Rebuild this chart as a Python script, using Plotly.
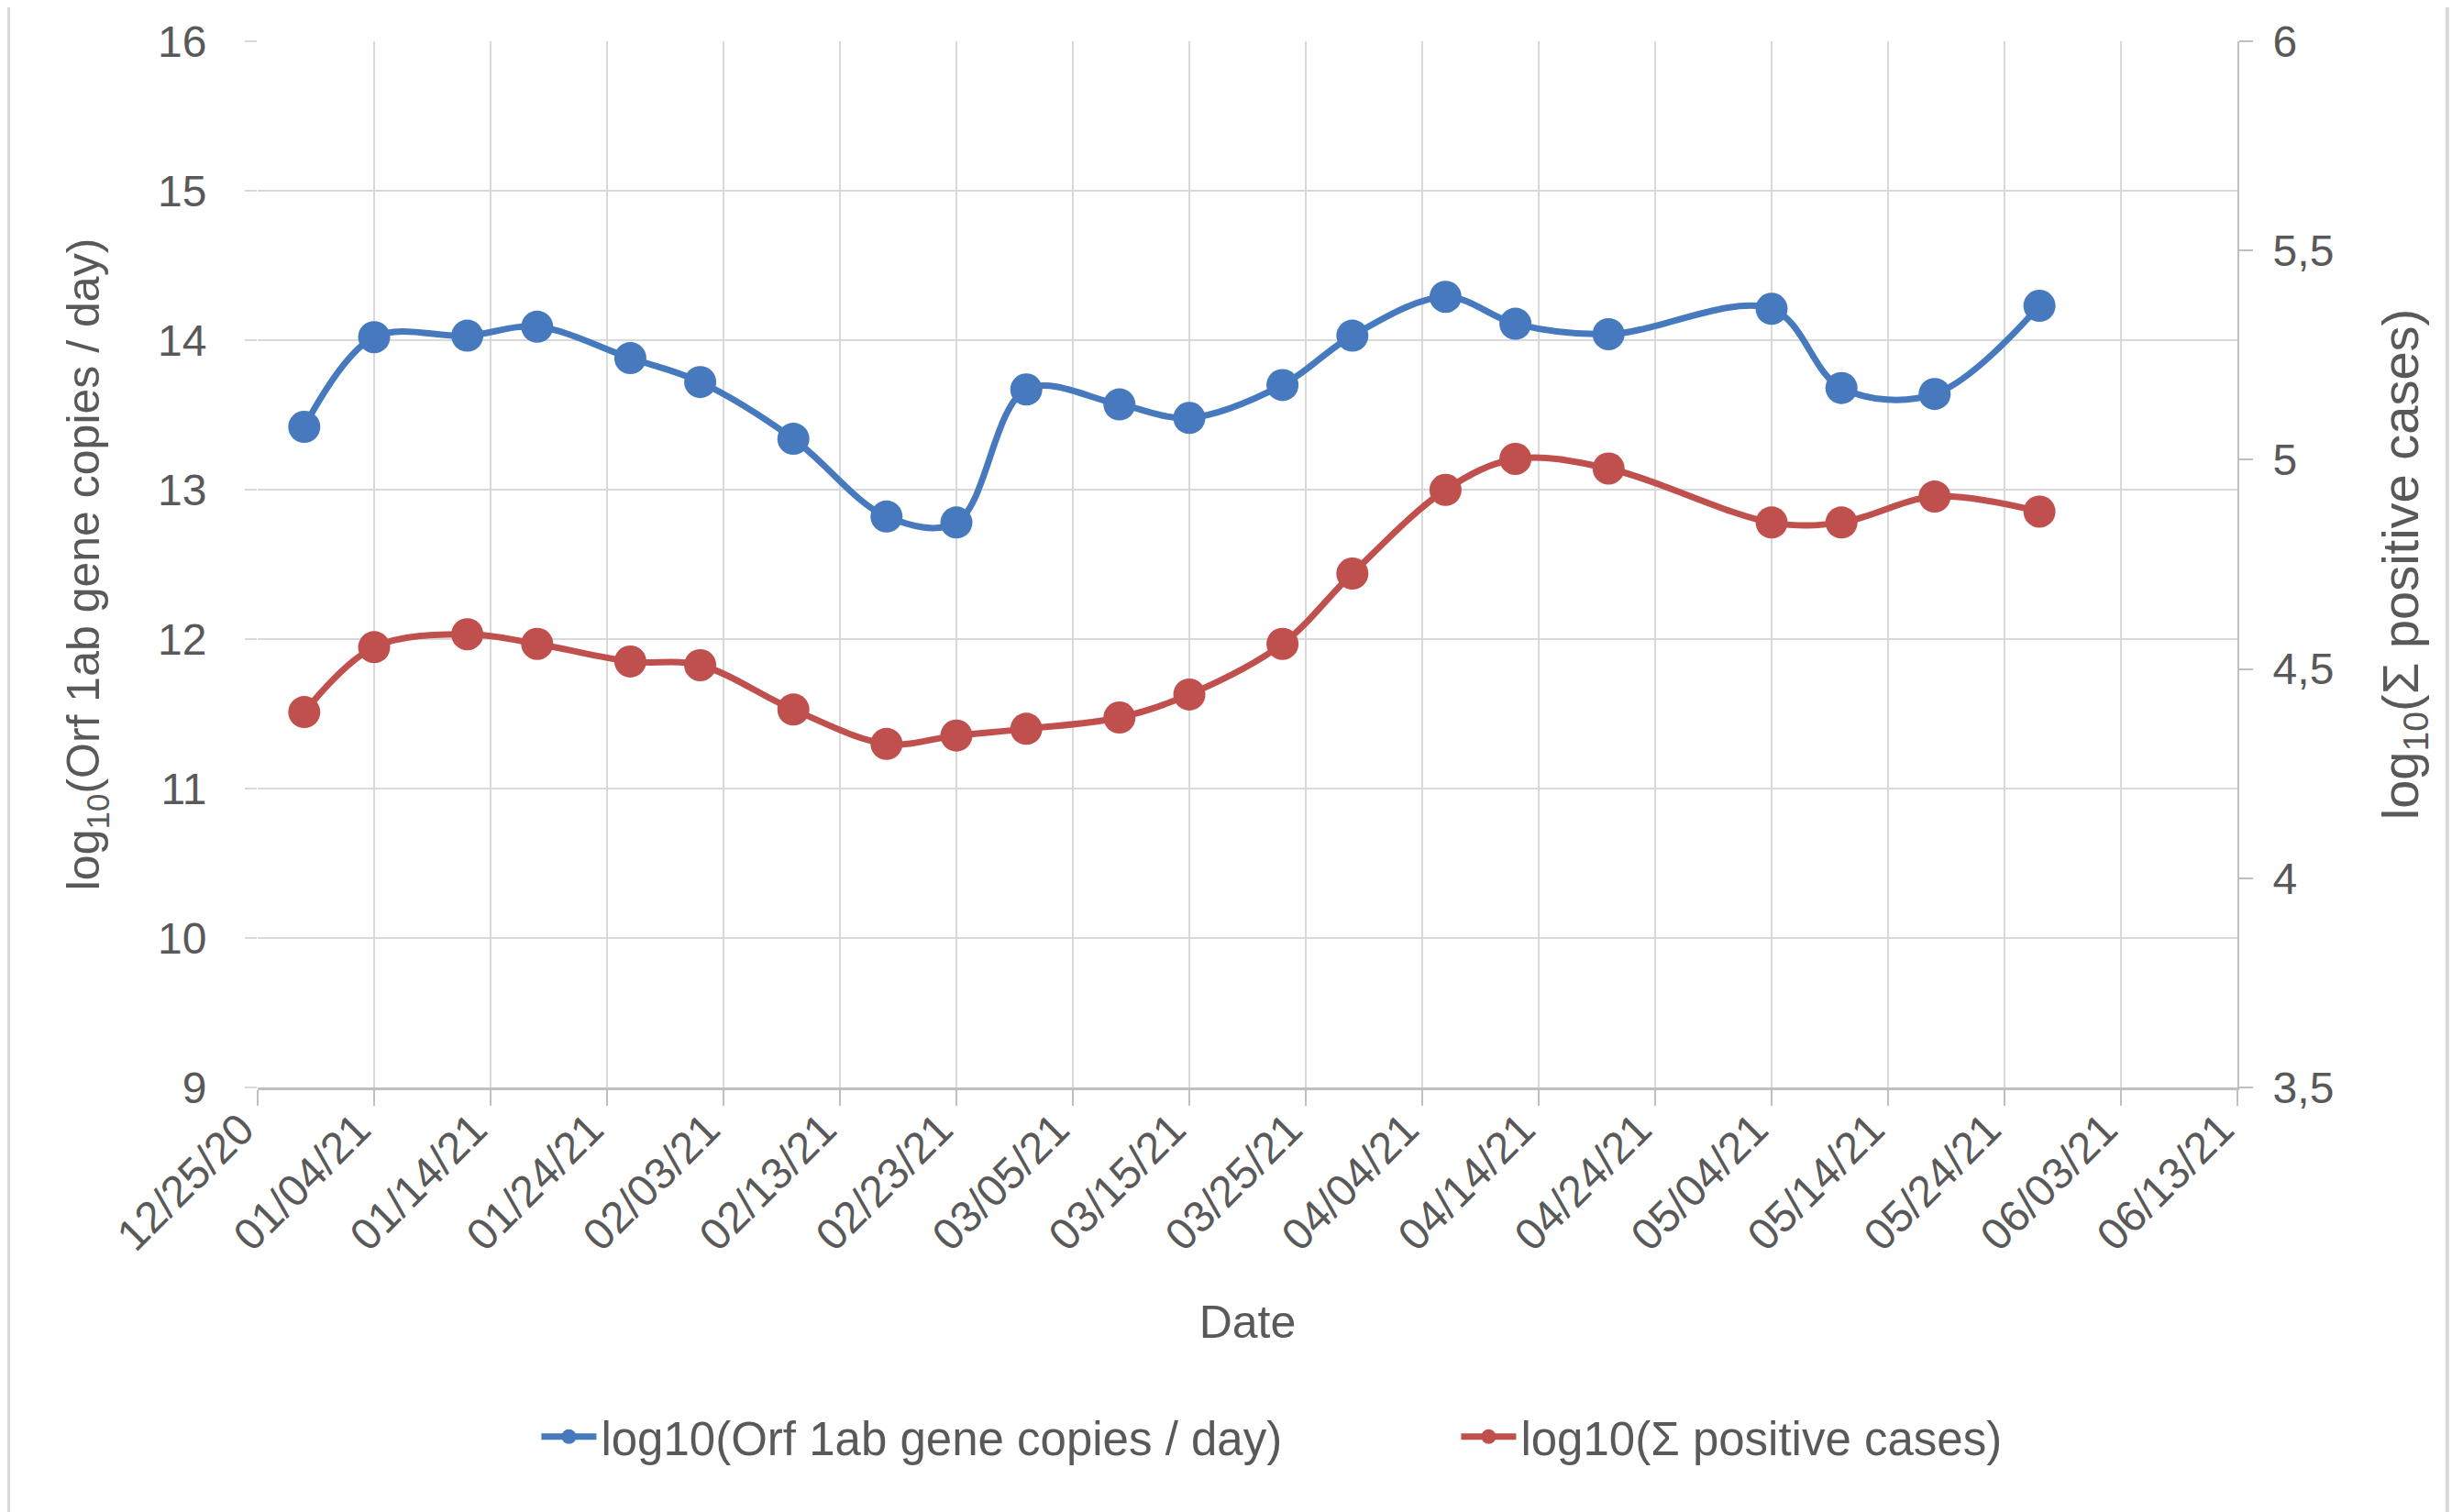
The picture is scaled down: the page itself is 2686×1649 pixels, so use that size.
import plotly.graph_objects as go
from plotly.subplots import make_subplots

# sampling dates
dates = [
    "2020-12-29", "2021-01-04", "2021-01-12", "2021-01-18", "2021-01-26",
    "2021-02-01", "2021-02-09", "2021-02-17", "2021-02-23", "2021-03-01",
    "2021-03-09", "2021-03-15", "2021-03-23", "2021-03-29", "2021-04-06",
    "2021-04-12", "2021-04-20", "2021-05-04", "2021-05-10", "2021-05-18",
    "2021-05-27",
]

# log10(Orf 1ab gene copies / day), left axis
gene_copies = [
    13.42, 14.02, 14.03, 14.09, 13.88, 13.72, 13.34, 12.82, 12.78, 13.67,
    13.57, 13.48, 13.70, 14.03, 14.29, 14.11, 14.04, 14.21, 13.68, 13.64,
    14.23,
]

# log10(sum of positive cases), right axis
positive_cases = [
    4.397, 4.552, 4.583, 4.560, 4.518, 4.509, 4.403, 4.321, 4.341, 4.357,
    4.384, 4.439, 4.560, 4.728, 4.928, 5.002, 4.979, 4.850, 4.850, 4.912,
    4.876,
]

BLUE = "#4679BD"
RED = "#C0504D"
TEXT = "#595959"
GRID = "#D9D9D9"
AXIS = "#BFBFBF"
FONT = "Liberation Sans, Arial, sans-serif"

fig = make_subplots(specs=[[{"secondary_y": True}]])

fig.add_trace(
    go.Scatter(
        x=dates,
        y=gene_copies,
        mode="lines+markers",
        name="log10(Orf 1ab gene copies / day)",
        line={"color": BLUE, "width": 7, "shape": "spline", "smoothing": 1},
        marker={"color": BLUE, "size": 35},
    ),
    secondary_y=False,
)
fig.add_trace(
    go.Scatter(
        x=dates,
        y=positive_cases,
        mode="lines+markers",
        name="log10(Σ positive cases)",
        line={"color": RED, "width": 7, "shape": "spline", "smoothing": 1},
        marker={"color": RED, "size": 35},
    ),
    secondary_y=True,
)

fig.update_layout(
    width=2686,
    height=1649,
    margin={"l": 273, "r": 254, "t": 37, "b": 471, "autoexpand": False},
    paper_bgcolor="white",
    plot_bgcolor="white",
    separators=",.",
    font={"family": FONT, "size": 48, "color": TEXT},
    showlegend=True,
    legend={
        "orientation": "h",
        "x": 0.141,
        "xanchor": "left",
        "y": -0.334,
        "yanchor": "middle",
        "font": {"size": 51, "color": TEXT},
        "entrywidth": 928,
        "entrywidthmode": "pixels",
        "itemwidth": 60,
    },
    shapes=[
        {"type": "line", "xref": "paper", "yref": "paper", "x0": -0.126, "x1": -0.126,
         "y0": -0.42, "y1": 1.04, "line": {"color": GRID, "width": 4}},
        {"type": "line", "xref": "paper", "yref": "paper", "x0": 1.106, "x1": 1.106,
         "y0": -0.42, "y1": 1.04, "line": {"color": GRID, "width": 4}},
    ],
)

fig.update_xaxes(
    type="date",
    domain=[0, 1],
    range=["2020-12-25", "2021-06-13"],
    tick0="2020-12-25",
    dtick=10 * 24 * 3600 * 1000,
    tickformat="%m/%d/%y",
    tickangle=-45,
    tickfont={"size": 48, "color": TEXT},
    ticklabelshift=-18,
    ticklabelstandoff=-22,
    showgrid=True,
    gridcolor=GRID,
    gridwidth=2,
    ticks="outside",
    ticklen=17,
    tickwidth=2,
    tickcolor=AXIS,
    showline=True,
    linecolor=AXIS,
    linewidth=3,
    zeroline=False,
    automargin=False,
    title={"text": "Date", "font": {"size": 50, "color": TEXT}, "standoff": 52},
)

fig.update_yaxes(
    range=[9, 16],
    dtick=1,
    tickfont={"size": 48, "color": TEXT},
    showgrid=True,
    gridcolor=GRID,
    gridwidth=2,
    ticks="outside",
    ticklen=13,
    tickwidth=2,
    tickcolor=GRID,
    ticklabelstandoff=32,
    showline=False,
    zeroline=False,
    automargin=False,
    title={"text": "log<sub>10</sub>(Orf 1ab gene copies / day)",
           "font": {"size": 50, "color": TEXT}, "standoff": 47},
    secondary_y=False,
)

fig.update_yaxes(
    range=[3.5, 6],
    dtick=0.5,
    tickfont={"size": 48, "color": TEXT},
    showgrid=False,
    ticks="outside",
    ticklen=15,
    tickwidth=2,
    tickcolor=AXIS,
    ticklabelstandoff=12,
    showline=True,
    linecolor=AXIS,
    linewidth=2,
    zeroline=False,
    automargin=False,
    title={"text": "log<sub>10</sub>(Σ positive cases)",
           "font": {"family": "Liberation Sans Narrow, Liberation Sans, sans-serif",
                    "size": 56, "color": TEXT},
           "standoff": 53},
    secondary_y=True,
)

fig.write_html("out.html")
